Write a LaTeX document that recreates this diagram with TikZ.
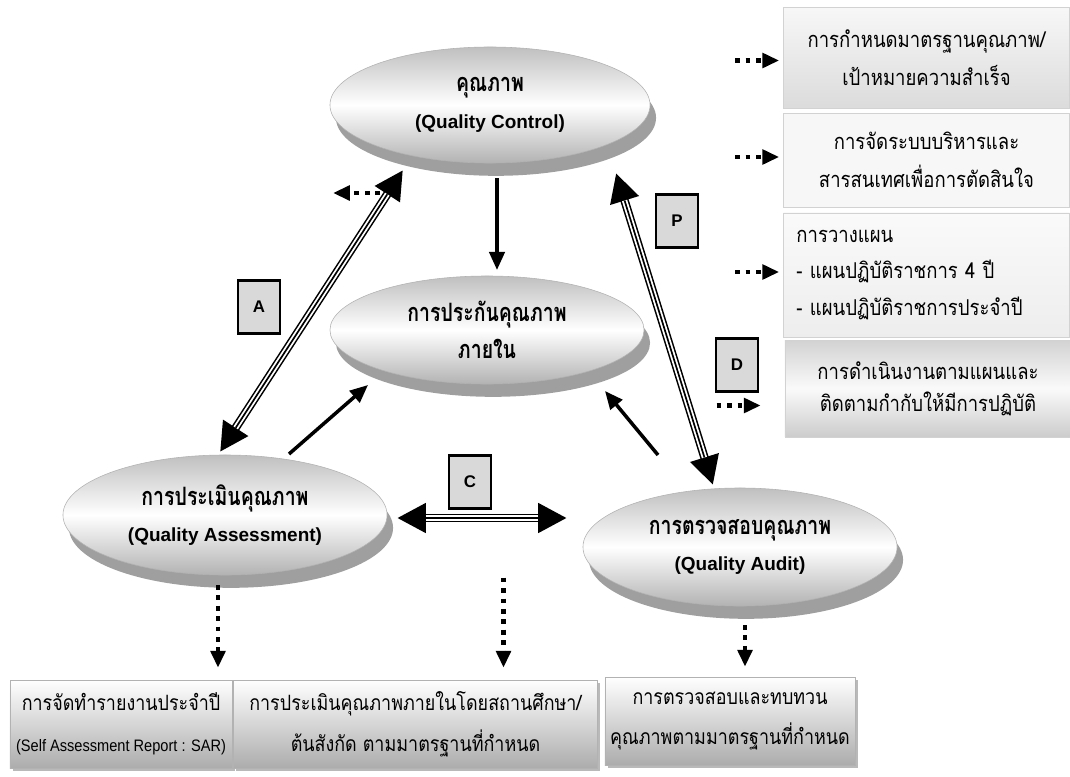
\documentclass[tikz,border=0pt]{standalone}
\usepackage{fontspec}
\setmainfont{Liberation Sans}
\newfontfamily\thaifont[Script=Thai,FakeStretch=0.85]{Loma}
\newfontfamily\thaiheavy[Script=Thai,FakeStretch=0.77]{Loma}
\newfontfamily\engfont[FakeStretch=0.88]{Liberation Sans}
\usetikzlibrary{arrows.meta,positioning,calc,shapes.geometric,shadows}

\begin{document}
\begin{tikzpicture}[x=0.025cm,y=-0.025cm,
  oval/.style={ellipse,draw=gray!60,top color=gray!50,bottom color=gray!60,middle color=white,
    drop shadow={shadow xshift=0.15cm,shadow yshift=-0.32cm,fill=gray!75,opacity=1},
    inner sep=0pt,minimum width=7.9cm,minimum height=3cm,align=center,
    font=\thaiheavy\bfseries\fontsize{18}{26}\selectfont},
  panel/.style={rectangle,draw=gray!35,inner sep=0pt,minimum width=7.15cm,align=center,
    font=\thaifont\fontsize{15.5}{27}\selectfont},
  result/.style={rectangle,draw=gray!60,top color=white,bottom color=gray!65,
    drop shadow={shadow xshift=0.07cm,shadow yshift=-0.07cm,fill=gray!55,opacity=1},
    inner sep=0pt,minimum height=2.2cm,align=center,font=\thaifont\fontsize{15}{29}\selectfont},
  tag/.style={rectangle,draw=black,line width=1.7pt,fill=gray!30,minimum width=1.05cm,
    minimum height=1.33cm,inner sep=0pt,font=\rmfamily\bfseries\fontsize{12}{14}\selectfont},
  link/.style={line width=2.5pt,-{Triangle[length=0.45cm,width=0.38cm]}},
  dotlink/.style={line width=3.4pt,dash pattern=on 3.4pt off 4pt,-{Triangle[length=0.42cm,width=0.36cm]}},
  trio/.style={line width=6pt,{Triangle[length=0.72cm,width=0.7cm]}-{Triangle[length=0.72cm,width=0.7cm]},
    postaction={draw=white,line width=3.8pt,-,shorten <=0.72cm,shorten >=0.72cm},
    postaction={draw=black,line width=1.2pt,-,shorten <=0.72cm,shorten >=0.72cm}}]
\useasboundingbox (0,0) rectangle (1070,776);

% the four ovals
\node[oval,minimum width=8cm,minimum height=2.9cm] (qc) at (490,105) {คุณภาพ\\{\rmfamily\fontsize{13.5}{26}\selectfont (Quality Control)}};
\node[oval,minimum width=7.85cm,minimum height=2.7cm] (iqa) at (487,330) {การประกันคุณภาพ\\ภายใน};
\node[oval,minimum width=8.1cm] (qa) at (225,515) {การประเมินคุณภาพ\\{\rmfamily\fontsize{13.5}{26}\selectfont (Quality Assessment)}};
\node[oval,minimum width=7.85cm,minimum height=2.95cm] (aud) at (740,547) {การตรวจสอบคุณภาพ\\{\rmfamily\fontsize{13.5}{26}\selectfont (Quality Audit)}};

% right column
\node[panel,minimum height=2.52cm,top color=gray!6,bottom color=gray!28] (std) at (926.5,57.5) {การกำหนดมาตรฐานคุณภาพ/\\เป้าหมายความสำเร็จ};
\node[panel,minimum height=2.35cm,fill=gray!6] (mis) at (926.5,160) {การจัดระบบบริหารและ\\สารสนเทศเพื่อการตัดสินใจ};
\node[panel,minimum height=3.1cm,top color=gray!4,bottom color=gray!14,align=left,text width=6.5cm,
  font=\thaifont\fontsize{15.5}{26}\selectfont] (plan) at (926.5,275) {การวางแผน\\- แผนปฏิบัติราชการ 4 ปี\\- แผนปฏิบัติราชการประจำปี};
\node[panel,minimum height=2.42cm,top color=gray!35,bottom color=gray!40,middle color=gray!4,
  font=\thaifont\fontsize{15.5}{23}\selectfont] (impl) at (928,388.5) {การดำเนินงานตามแผนและ\\ติดตามกำกับให้มีการปฏิบัติ};

% bottom row
\node[result,minimum width=5.55cm] (sar) at (121,724) {การจัดทำรายงานประจำปี\\{\engfont\fontsize{11.8}{29}\selectfont (Self Assessment Report : SAR)}};
\node[result,minimum width=9.1cm] (ieval) at (415.5,724) {การประเมินคุณภาพภายในโดยสถานศึกษา/\\ต้นสังกัด ตามมาตรฐานที่กำหนด};
\node[result,minimum width=6.25cm] (review) at (730,721) {การตรวจสอบและทบทวน\\คุณภาพตามมาตรฐานที่กำหนด};

% letters
\node[tag] (ta) at (259,307) {A};
\node[tag] (tp) at (677,221) {P};
\node[tag] (tc) at (470,482) {C};
\node[tag] (td) at (737,365) {D};

% triple arrows
\draw[trio] ([shift={(-5,-63)}]qa.center) -- ([shift={(-87,65)}]qc.center);
\draw[trio] ([shift={(126,68)}]qc.center) -- ([shift={(-27,-62)}]aud.center);
\draw[trio] ([shift={(172,3)}]qa.center) -- ([shift={(-173,-29)}]aud.center);

% solid arrows
\draw[link] ([shift={(7,73)}]qc.center) -- ([shift={(10,-60)}]iqa.center);
\draw[link] ([shift={(64,-61)}]qa.center) -- ([shift={(-119,55)}]iqa.center);
\draw[link] ([shift={(-82,-92)}]aud.center) -- ([shift={(118,61)}]iqa.center);

% dotted arrows
\draw[dotlink] ([shift={(-110,88)}]qc.center) -- ([shift={(-157,88)}]qc.center);
\draw[dotlink] ([shift={(-48,3)}]std.west) -- ([shift={(-4,3)}]std.west);
\draw[dotlink] ([shift={(-48,-3)}]mis.west) -- ([shift={(-4,-3)}]mis.west);
\draw[dotlink] ([shift={(-48,-3)}]plan.west) -- ([shift={(-4,-3)}]plan.west);
\draw[dotlink] ([shift={(-68,17)}]impl.west) -- ([shift={(-24,17)}]impl.west);
\draw[dotlink] ([shift={(-7,70)}]qa.center) -- ([shift={(97,-12)}]sar.north);
\draw[dotlink] ([shift={(88,-102)}]ieval.north) -- ([shift={(88,-12)}]ieval.north);
\draw[dotlink] ([shift={(5,78)}]aud.center) -- ([shift={(15,-10)}]review.north);
\end{tikzpicture}
\end{document}
